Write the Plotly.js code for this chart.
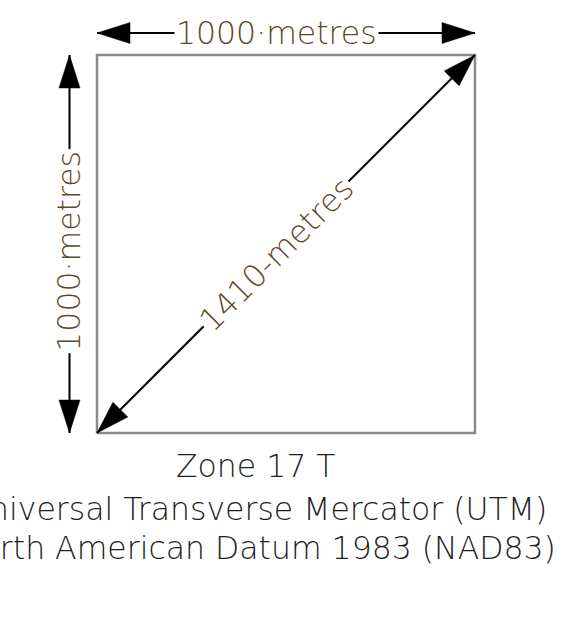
<!DOCTYPE html>
<html>
<head>
<meta charset="utf-8">
<script src="https://cdn.plot.ly/plotly-3.0.1.min.js"></script>
<style>html,body{margin:0;padding:0;background:#fff;}#chart{width:575px;height:622px;}</style>
</head>
<body>
<div id="chart"></div>
<script>
// ---- data ----
const squareX = [0, 1000, 1000, 0, 0];
const squareY = [0, 0, 1000, 1000, 0];
const sideWidth = 1000;
const sideHeight = 1000;
const diagonalLength = 1410;
const measureLabels = ['1000\u00B7metres', '1000\u00B7metres', '1410-metres'];
const captionLines = ['Zone 17 T', 'Universal Transverse Mercator (UTM)', 'North American Datum 1983 (NAD83)'];

// ---- layout helpers (pixel scale of the drawing) ----
const W = 575, H = 622;
const px = sideWidth / 378;            // metres per pixel
const xRange = [-97 * px, (W - 97) * px];
const yRange = [-(H - 433) * px, sideHeight + 55 * px];

const FONT = 'DejaVu Sans, Lato, sans-serif';
const LABEL_COLOR = '#5b4a2b';

const traces = [];
traces.push({x: squareX, y: squareY, mode: 'lines', line: {color: '#8a8a8a', width: 2.5}, hoverinfo: 'skip'});

function head(tipX, tipY, dirX, dirY) {
  const len = Math.hypot(dirX, dirY);
  const ux = dirX / len, uy = dirY / len;
  const L = 33 * px, hw = 10.5 * px;
  const bx = tipX - ux * L, by = tipY - uy * L;
  return {
    x: [tipX, bx - uy * hw, bx + uy * hw, tipX],
    y: [tipY, by + ux * hw, by - ux * hw, tipY],
    mode: 'lines', fill: 'toself', fillcolor: '#000', line: {color: '#000', width: 0.5}, hoverinfo: 'skip'
  };
}
function dblArrow(x0, y0, x1, y1) {
  traces.push({x: [x0, x1], y: [y0, y1], mode: 'lines', line: {color: '#000', width: 2}, hoverinfo: 'skip'});
  traces.push(head(x0, y0, x0 - x1, y0 - y1));
  traces.push(head(x1, y1, x1 - x0, y1 - y0));
}
const topY = sideHeight + 22 * px;
const leftX = -27.5 * px;
dblArrow(squareX[0], topY, squareX[1], topY);
dblArrow(leftX, squareY[0], leftX, squareY[2]);
dblArrow(squareX[0], squareY[0], squareX[2], squareY[2]);

const annotations = [
  {x: sideWidth * 0.476, y: topY, text: measureLabels[0], textangle: 0},
  {x: leftX, y: sideHeight * 0.481, text: measureLabels[1], textangle: -90},
  {x: diagonalLength / Math.SQRT2 * 0.476, y: diagonalLength / Math.SQRT2 * 0.476, text: measureLabels[2], textangle: -45}
].map(a => Object.assign(a, {
  xref: 'x', yref: 'y', showarrow: false, bgcolor: '#fff', borderpad: 1,
  font: {family: FONT, size: 31.5, color: LABEL_COLOR, weight: 200}
}));

const capY = [-(466 - 433) * px, -(509 - 433) * px, -(548 - 433) * px];
captionLines.forEach((t, i) => annotations.push({
  x: (256 - 97) * px, y: capY[i], xref: 'x', yref: 'y', text: t, showarrow: false,
  font: {family: FONT, size: 31.5, color: '#1e1e1e', weight: 200}
}));

const layout = {
  width: W, height: H, autosize: false,
  margin: {l: 0, r: 0, t: 0, b: 0},
  paper_bgcolor: '#fff', plot_bgcolor: '#fff',
  showlegend: false,
  xaxis: {range: xRange, visible: false, fixedrange: true},
  yaxis: {range: yRange, visible: false, fixedrange: true},
  annotations: annotations
};
Plotly.newPlot('chart', traces, layout, {staticPlot: true, displayModeBar: false});
</script>
</body>
</html>
